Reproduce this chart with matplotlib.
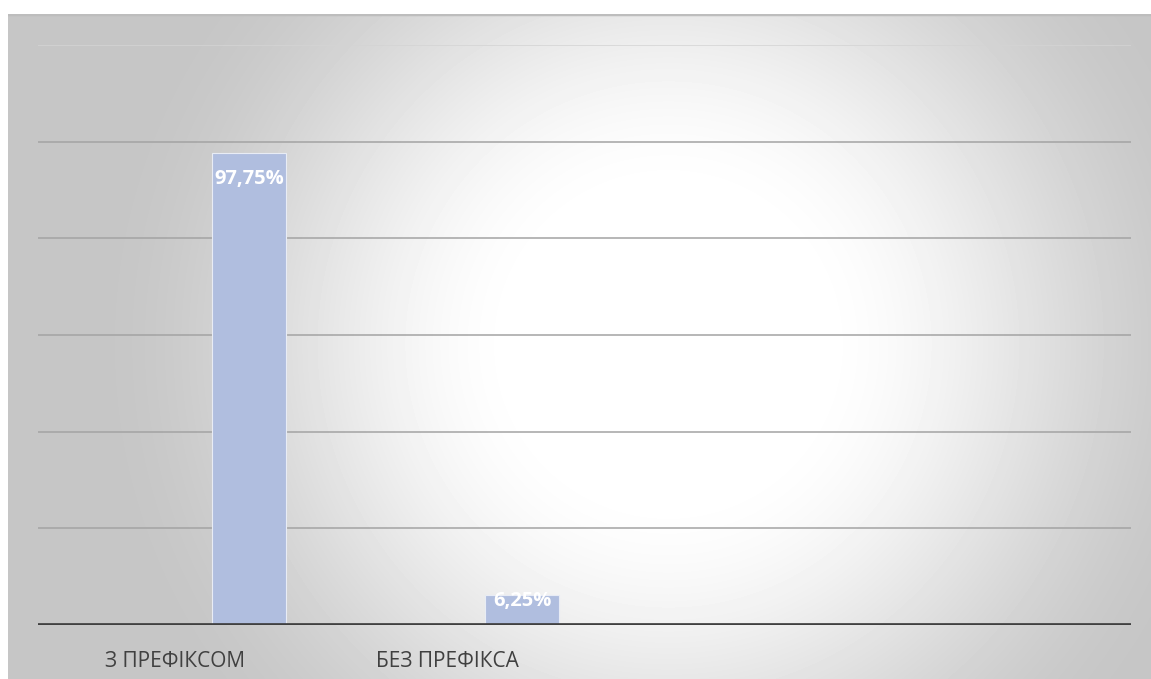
import numpy as np
import matplotlib
matplotlib.use("Agg")
from matplotlib import pyplot as plt

categories = ["З ПРЕФІКСОМ", "БЕЗ ПРЕФІКСА", "", ""]
values = [97.75, 6.25, None, None]
labels = ["97,75%", "6,25%"]
gridlines = [20, 40, 60, 80, 100, 120]

W, H = 1151, 679
fig = plt.figure(figsize=(W / 100, H / 100), dpi=100)
fig.patch.set_facecolor("white")

# background panel with radial gradient (white centre, grey rim)
bg = fig.add_axes([8 / W, 0, 1 - 8 / W, (H - 14) / H])
bg.set_axis_off()
yy, xx = np.mgrid[0:665, 0:1143]
cx, cy = 660, 330
r = np.sqrt((xx - cx) ** 2 + (yy - cy) ** 2)
t = np.clip((r - 140) / 440.0, 0, 1)
shade = 1.0 - 0.225 * (3 * t ** 2 - 2 * t ** 3)
bg.imshow(shade, cmap="gray", vmin=0, vmax=1, aspect="auto",
          extent=[0, 1, 0, 1], origin="upper", interpolation="bilinear")
bg.set_xlim(0, 1)
bg.set_ylim(0, 1)
bg.axhline(1, color="#bdbdbd", lw=2.5)

ax = fig.add_axes([38 / W, (H - 625) / H, (1131 - 38) / W, (625 - 45) / H])
ax.patch.set_alpha(0)
ax.set_xlim(-0.5, len(categories) - 0.5)
ax.set_ylim(0, 120)

for g in gridlines:
    ax.axhline(g, color="#a3a3a3" if g < 120 else "#d4d4d4", lw=1.1, zorder=1)

x = np.arange(len(categories))
bw = 0.272
for i, v in enumerate(values):
    if v is None:
        continue
    b = ax.bar(x[i] + bw, v, width=bw, color="#b0bedf", edgecolor="#e8ecf5",
               linewidth=0.8, zorder=2)[0]
    yc = v - 5.4 if v > 12 else v - 1.3
    txt = ax.text(x[i] + bw, yc, labels[i], ha="center", va="center",
                  color="white", fontsize=14.5, fontweight="bold",
                  family="Open Sans", zorder=3)
    txt.set_clip_path(b)

ax.axhline(0, color="#404040", lw=3.4, zorder=4)
for s in ax.spines.values():
    s.set_visible(False)
ax.set_yticks([])
ax.set_xticks(x)
ax.set_xticklabels(categories, fontsize=15, color="#404040", family="Open Sans")
ax.tick_params(axis="x", length=0, pad=19)

fig.savefig("out.png", dpi=100)
